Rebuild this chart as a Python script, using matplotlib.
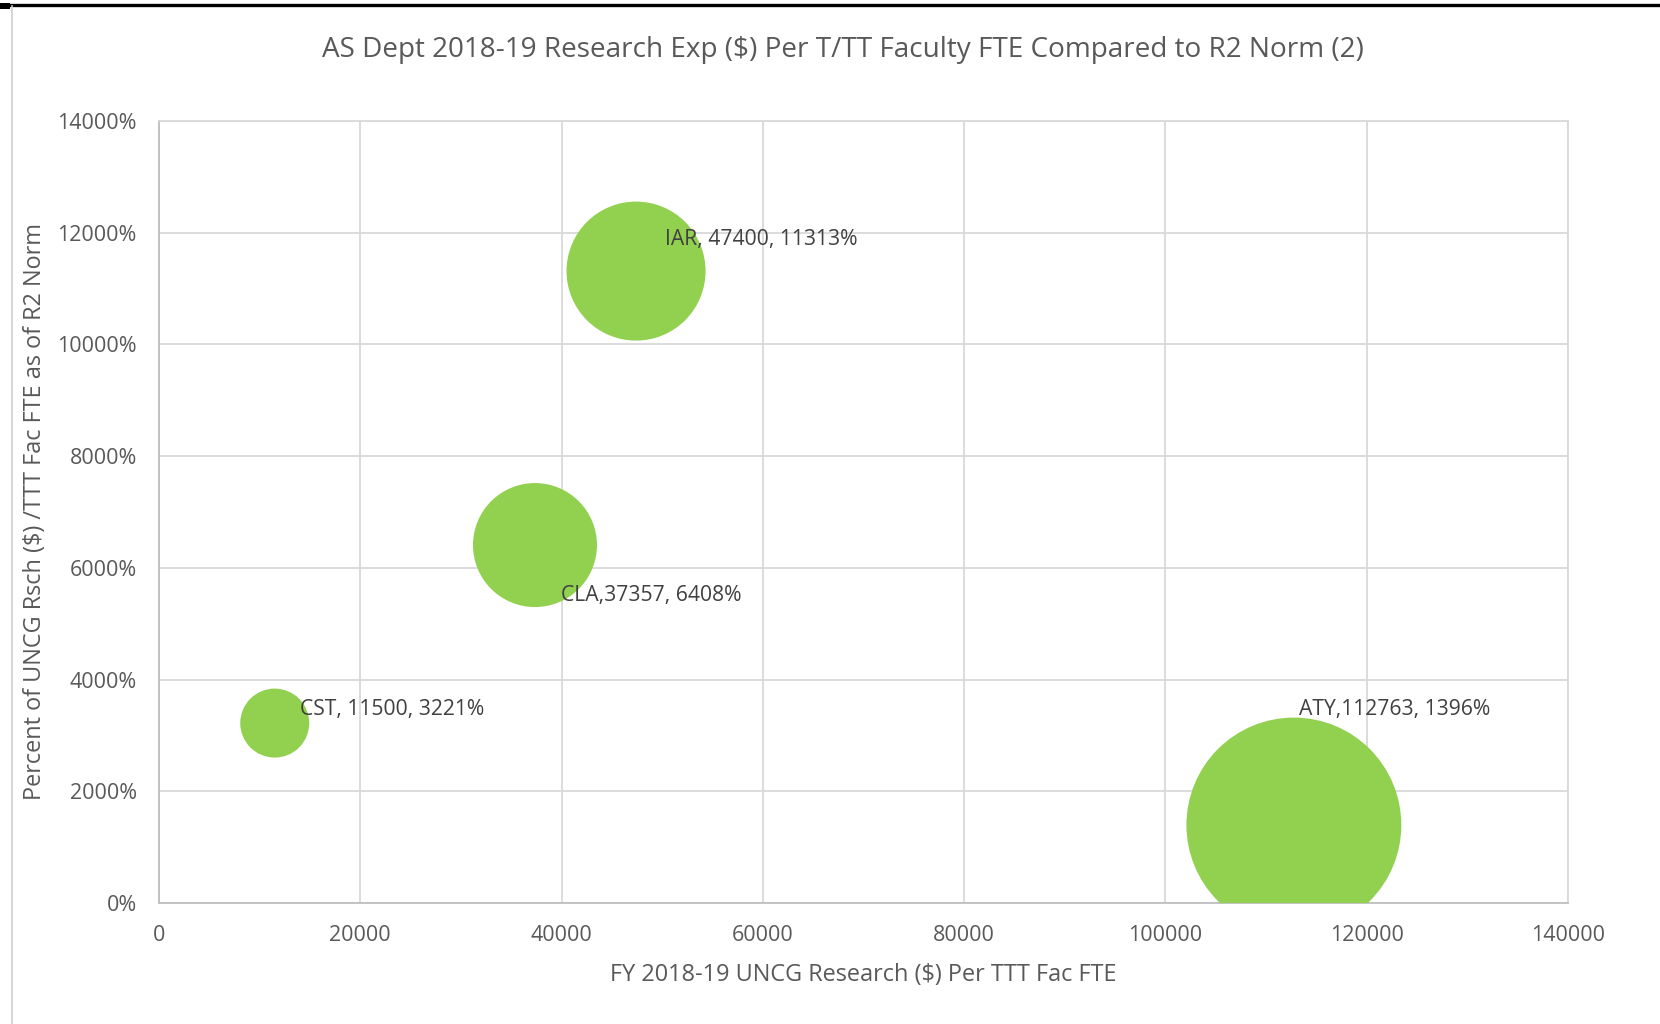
import matplotlib.pyplot as plt
from matplotlib.lines import Line2D
from matplotlib.patches import Rectangle
from matplotlib.ticker import FuncFormatter

plt.rcParams['font.family'] = ['Open Sans', 'DejaVu Sans']

# departments: research $ per T/TT FTE, percent of R2 norm, relative bubble area
depts = ['CST', 'CLA', 'IAR', 'ATY']
research = [11500, 37357, 47400, 112763]
pct_norm = [3221, 6408, 11313, 1396]
bubble_area = [1.0, 3.23, 4.06, 9.7]
labels = ['CST, 11500, 3221%', 'CLA,37357, 6408%', 'IAR, 47400, 11313%', 'ATY,112763, 1396%']

GREEN = '#92D050'
GRID = '#d9d9d9'
TXT = '#595959'

fig = plt.figure(figsize=(16.6, 10.24), dpi=100)
ax = fig.add_axes([159 / 1660, 121 / 1024, 1409 / 1660, 782 / 1024])

# bubble area scaled so the smallest one is ~69 px across
base = (69 * 0.72) ** 2
ax.scatter(research, pct_norm, s=[a * base for a in bubble_area],
           color=GREEN, edgecolors='none', zorder=3)

# label offsets (points) as placed by the spreadsheet
offsets = [(18, 10), (19, -36), (21, 23), (4, 83)]
for x, y, lab, off in zip(research, pct_norm, labels, offsets):
    ax.annotate(lab, (x, y), xytext=off, textcoords='offset points',
                ha='left', va='center', fontsize=15.2, color='#404040', zorder=4)

ax.set_xlim(0, 140000)
ax.set_ylim(0, 14000)
ax.set_xticks(range(0, 140001, 20000))
ax.set_yticks(range(0, 14001, 2000))
ax.yaxis.set_major_formatter(FuncFormatter(lambda v, p: f'{int(v)}%'))
ax.grid(True, color=GRID, lw=1.3, zorder=0)
ax.set_axisbelow(True)
for side in ['top', 'right']:
    ax.spines[side].set_color(GRID)
    ax.spines[side].set_linewidth(1.3)
for side in ['left', 'bottom']:
    ax.spines[side].set_color('#bfbfbf')
    ax.spines[side].set_linewidth(1.3)
ax.tick_params(length=0, labelsize=15.5, colors=TXT, pad=16)
ax.tick_params(axis='x', pad=16)

ax.set_xlabel('FY 2018-19 UNCG Research ($) Per TTT Fac FTE', fontsize=16.9, color=TXT, labelpad=12)
ax.set_ylabel('Percent of UNCG Rsch ($) /TTT Fac FTE as of R2 Norm', fontsize=16.9, color=TXT, labelpad=7)

fig.text(843 / 1660, 1 - 49.5 / 1024,
         'AS Dept 2018-19 Research Exp ($) Per T/TT Faculty FTE Compared to R2 Norm (2)',
         ha='center', va='center', fontsize=20.1, color=TXT)

# frame: dark rule along the top, light border on the left
fig.add_artist(Line2D([0, 1], [1 - 4.5 / 1024] * 2, color='black', lw=2.4))
fig.add_artist(Rectangle((0, 1 - 9 / 1024), 10 / 1660, 6 / 1024, color='black', lw=0))
fig.add_artist(Line2D([11.5 / 1660] * 2, [0, 1 - 6 / 1024], color='#d0d0d0', lw=1.2))

fig.savefig('out.png', dpi=100)
